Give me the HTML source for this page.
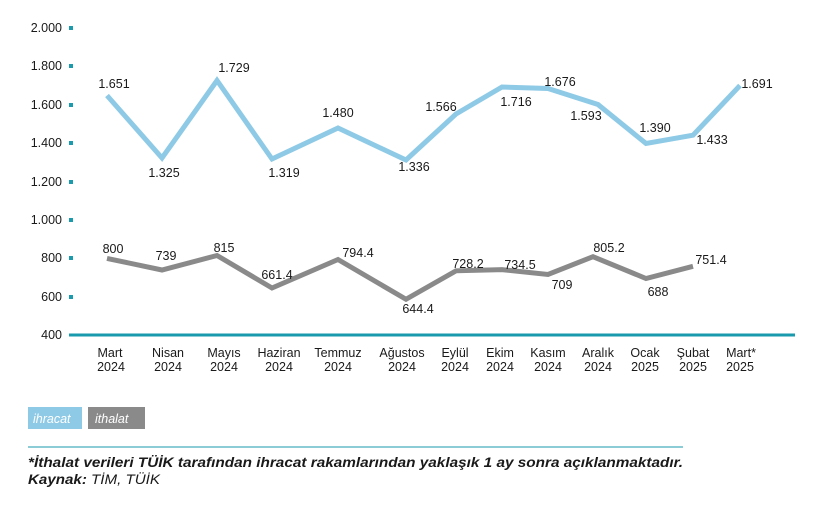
<!DOCTYPE html>
<html><head><meta charset="utf-8"><style>
body{margin:0;background:#fff;}
svg text{font-family:"Liberation Sans",sans-serif;fill:#1a1a1a;}
</style></head><body>
<svg width="835" height="512" viewBox="0 0 835 512" xmlns="http://www.w3.org/2000/svg">
<g font-size="12.5" text-anchor="end">
<text x="62" y="32">2.000</text><text x="62" y="70">1.800</text><text x="62" y="109">1.600</text>
<text x="62" y="147">1.400</text><text x="62" y="186">1.200</text><text x="62" y="224">1.000</text>
<text x="62" y="262">800</text><text x="62" y="301">600</text><text x="62" y="339">400</text>
</g>
<g fill="#1a9aad">
<rect x="69" y="26" width="4" height="4"/><rect x="69" y="64" width="4" height="4"/><rect x="69" y="103" width="4" height="4"/>
<rect x="69" y="141" width="4" height="4"/><rect x="69" y="180" width="4" height="4"/><rect x="69" y="218" width="4" height="4"/>
<rect x="69" y="256" width="4" height="4"/><rect x="69" y="295" width="4" height="4"/>
</g>
<line x1="69" y1="335" x2="795" y2="335" stroke="#1a9aad" stroke-width="3"/>
<polyline fill="none" stroke="#8ecae6" stroke-width="5" points="107,95.5 162,158 217,80.5 272,159 338,128 406,160 456,114 502,87 548,88.5 598,104.5 646,143.5 693,135.2 740,85.5"/>
<polyline fill="none" stroke="#8a8a8a" stroke-width="5" points="107,258.4 162,270 217,255.5 272,288 338,259.5 406,299.3 456,270.8 502,269.6 548,274.5 593,256.7 646,278.5 693,266.3"/>
<g font-size="12.5" text-anchor="middle">
<text x="114" y="88">1.651</text><text x="164" y="177">1.325</text><text x="234" y="72">1.729</text>
<text x="284" y="177">1.319</text><text x="338" y="117">1.480</text><text x="414" y="171">1.336</text>
<text x="441" y="111">1.566</text><text x="516" y="106">1.716</text><text x="560" y="86">1.676</text>
<text x="586" y="120">1.593</text><text x="655" y="132">1.390</text><text x="712" y="144">1.433</text>
<text x="757" y="88">1.691</text>
<text x="113" y="253">800</text><text x="166" y="260">739</text><text x="224" y="252">815</text>
<text x="277" y="279">661.4</text><text x="358" y="257">794.4</text><text x="418" y="313">644.4</text>
<text x="468" y="268">728.2</text><text x="520" y="269">734.5</text><text x="562" y="289">709</text>
<text x="609" y="252">805.2</text><text x="658" y="296">688</text><text x="711" y="264">751.4</text>
</g>
<g font-size="12.5" text-anchor="middle">
<text x="110" y="357">Mart</text><text x="111" y="371">2024</text>
<text x="168" y="357">Nisan</text><text x="168" y="371">2024</text>
<text x="224" y="357">Mayıs</text><text x="224" y="371">2024</text>
<text x="279" y="357">Haziran</text><text x="279" y="371">2024</text>
<text x="338" y="357">Temmuz</text><text x="338" y="371">2024</text>
<text x="402" y="357">Ağustos</text><text x="402" y="371">2024</text>
<text x="455" y="357">Eylül</text><text x="455" y="371">2024</text>
<text x="500" y="357">Ekim</text><text x="500" y="371">2024</text>
<text x="548" y="357">Kasım</text><text x="548" y="371">2024</text>
<text x="598" y="357">Aralık</text><text x="598" y="371">2024</text>
<text x="645" y="357">Ocak</text><text x="645" y="371">2025</text>
<text x="693" y="357">Şubat</text><text x="693" y="371">2025</text>
<text x="741" y="357">Mart*</text><text x="740" y="371">2025</text>
</g>
<rect x="28" y="407" width="54" height="22" fill="#8ecae6"/>
<rect x="88" y="407" width="57" height="22" fill="#8a8a8a"/>
<text x="33" y="423" font-size="12.5" font-style="italic" style="fill:#fff">ihracat</text>
<text x="95" y="423" font-size="12.5" font-style="italic" style="fill:#fff">ithalat</text>
<line x1="28" y1="447" x2="683" y2="447" stroke="#1a9aad" stroke-width="1"/>
<text x="28" y="467" font-size="13.5" font-weight="bold" font-style="italic" textLength="655" lengthAdjust="spacingAndGlyphs">*İthalat verileri TÜİK tarafından ihracat rakamlarından yaklaşık 1 ay sonra açıklanmaktadır.</text>
<text x="28" y="484" font-size="13.5" font-style="italic" textLength="132" lengthAdjust="spacingAndGlyphs"><tspan font-weight="bold">Kaynak:</tspan> TİM, TÜİK</text>
</svg>
</body></html>
